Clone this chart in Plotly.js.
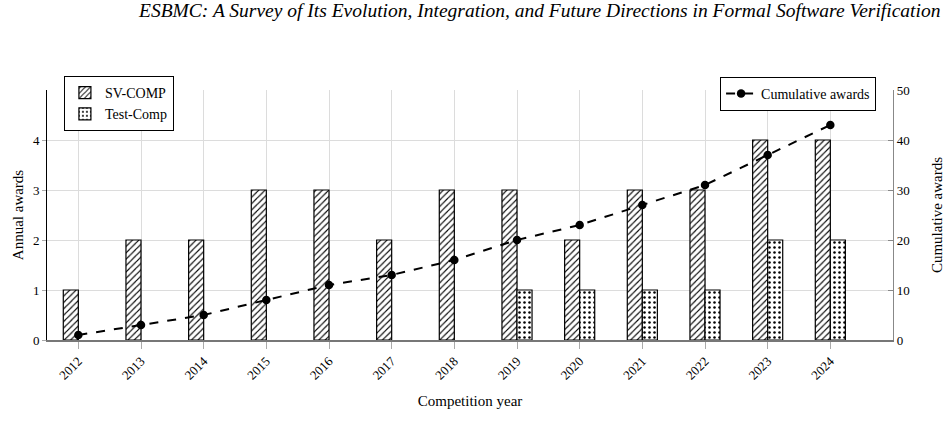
<!DOCTYPE html>
<html>
<head>
<meta charset="utf-8">
<script src="https://cdn.plot.ly/plotly-3.0.1.min.js"></script>
<style>html,body{margin:0;padding:0;background:#fff;}#chart{width:949px;height:426px;}</style>
</head>
<body>
<div id="chart"></div>
<script>
const years = ["2012","2013","2014","2015","2016","2017","2018","2019","2020","2021","2022","2023","2024"];
const svcomp = [1,2,2,3,3,2,3,3,2,3,3,4,4];
const testcomp = [0,0,0,0,0,0,0,1,1,1,1,2,2];
const cumulative = [1,3,5,8,11,13,16,20,23,27,31,37,43];

const serif = "'Liberation Serif', 'Times New Roman', serif";

const traces = [
  {
    type: "bar", name: "SV-COMP", x: years, y: svcomp.map(v => v === 0 ? null : v),
    offset: -0.24, width: 0.24,
    marker: {color: "#ffffff", line: {color: "#000", width: 1.2},
      pattern: {shape: "/", fgcolor: "#000", bgcolor: "#fff", size: 4.5, solidity: 0.25}},
    legend: "legend"
  },
  {
    type: "bar", name: "Test-Comp", x: years, y: testcomp.map(v => v === 0 ? null : v),
    offset: 0, width: 0.24,
    marker: {color: "#ffffff", line: {color: "#000", width: 1.2},
      pattern: {shape: ".", fgcolor: "#000", bgcolor: "#fff", size: 5, solidity: 0.2}},
    legend: "legend"
  },
  {
    type: "scatter", mode: "lines+markers", name: "Cumulative awards",
    x: years, y: cumulative, yaxis: "y2",
    line: {color: "#000", width: 2, dash: "dash"},
    marker: {color: "#000", size: 8.5, symbol: "circle"},
    legend: "legend2"
  }
];

const layout = {
  width: 949, height: 426,
  margin: {l: 47, r: 56, t: 90, b: 86},
  paper_bgcolor: "#fff", plot_bgcolor: "#fff",
  font: {family: serif, size: 13, color: "#000"},
  title: {text: "ESBMC: A Survey of Its Evolution, Integration, and Future Directions in Formal Software Verification",
    xref: "container", x: 0.991, xanchor: "right", yref: "container", y: 0.993, yanchor: "top",
    font: {family: serif, size: 19.5, color: "#000", style: "italic"}},
  showlegend: true,
  xaxis: {
    type: "category", range: [-0.5, 13],
    showgrid: true, gridcolor: "#dcdcdc", gridwidth: 1,
    ticks: "outside", ticklen: 7, tickcolor: "#aaa",
    tickangle: -45, tickfont: {family: serif, size: 13},
    showline: true, linecolor: "#777", linewidth: 1.5,
    title: {text: "Competition year", font: {family: serif, size: 15}, standoff: 14},
    zeroline: false, automargin: false
  },
  yaxis: {
    range: [0, 5], tickvals: [0,1,2,3,4], ticktext: ["0","1","2","3","4"],
    showgrid: true, gridcolor: "#dcdcdc", gridwidth: 1,
    ticks: "outside", ticklen: 4, tickcolor: "#aaa",
    showline: true, linecolor: "#000", linewidth: 1,
    zeroline: false, tickfont: {family: serif, size: 13},
    title: {text: "Annual awards", font: {family: serif, size: 15}, standoff: 5},
    automargin: false
  },
  yaxis2: {
    range: [0, 50], tickvals: [0,10,20,30,40,50], overlaying: "y", side: "right",
    showgrid: false, ticks: "inside", ticklen: 5, tickcolor: "#888",
    showline: true, linecolor: "#888", linewidth: 1.2,
    zeroline: false, tickfont: {family: serif, size: 13},
    title: {text: "Cumulative awards", font: {family: serif, size: 15}, standoff: 22},
    automargin: false
  },
  legend: {
    x: 0.02, xanchor: "left", y: 1.056, yanchor: "top",
    bgcolor: "#fff", bordercolor: "#000", borderwidth: 1,
    font: {family: serif, size: 14}, tracegroupgap: 2, itemwidth: 30
  },
  legend2: {
    x: 0.98, xanchor: "right", y: 1.052, yanchor: "top",
    bgcolor: "#fff", bordercolor: "#000", borderwidth: 1,
    font: {family: serif, size: 14}
  }
};

Plotly.newPlot("chart", traces, layout, {displayModeBar: false, staticPlot: true});
</script>
</body>
</html>
